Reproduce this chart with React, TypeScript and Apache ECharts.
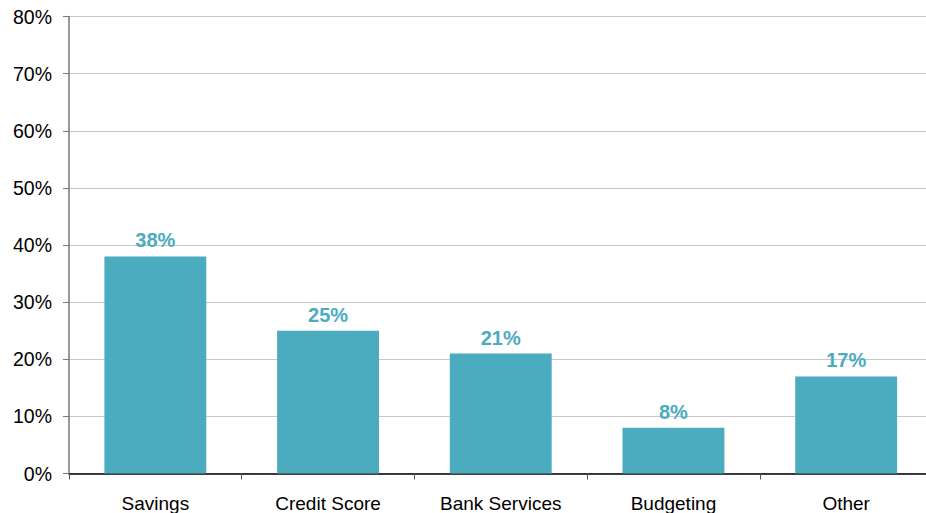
import React, { useEffect, useRef } from "react";
import * as echarts from "echarts";

const categories = ["Savings", "Credit Score", "Bank Services", "Budgeting", "Other"];
const values = [38, 25, 21, 8, 17];
const yTicks = [0, 10, 20, 30, 40, 50, 60, 70, 80];

export default function App() {
  const ref = useRef<HTMLDivElement>(null);
  useEffect(() => {
    if (!ref.current) return;
    const chart = echarts.init(ref.current, null, { renderer: "svg" });
    chart.setOption({
      animation: false,
      grid: { left: 69, top: 16.5, width: 863.5, height: 457, outerBoundsMode: "none", containLabel: false },
      xAxis: {
        type: "category",
        data: categories,
        axisLine: { show: true, lineStyle: { color: "#000", width: 1.5 } },
        axisTick: { show: true, alignWithLabel: false, length: 6, lineStyle: { color: "#555" } },
        axisLabel: { fontFamily: "Liberation Sans, Arial", fontSize: 19, color: "#000", margin: 20 },
      },
      yAxis: {
        type: "value",
        min: yTicks[0],
        max: yTicks[yTicks.length - 1],
        interval: 10,
        axisLine: { show: true, lineStyle: { color: "#777", width: 1.5 } },
        axisTick: { show: true, length: 6, lineStyle: { color: "#777" } },
        axisLabel: {
          fontFamily: "Liberation Sans, Arial",
          fontSize: 19.5,
          color: "#000",
          margin: 17,
          formatter: (v: number) => `${v}%`,
        },
        splitLine: { show: true, lineStyle: { color: "#c8c8c8", width: 1 } },
      },
      series: [
        {
          type: "bar",
          data: values,
          barWidth: "59%",
          itemStyle: { color: "#4BACC0" },
          label: {
            show: true,
            position: "top",
            distance: 6,
            formatter: (p: any) => `${p.value}%`,
            fontFamily: "Liberation Sans, Arial",
            fontSize: 20,
            fontWeight: "bold",
            color: "#4BACC0",
          },
        },
      ],
    });
    return () => chart.dispose();
  }, []);
  return (
    <div
      ref={ref}
      style={{ position: "fixed", left: 0, top: 0, width: 926, height: 513, background: "#fff" }}
    />
  );
}
